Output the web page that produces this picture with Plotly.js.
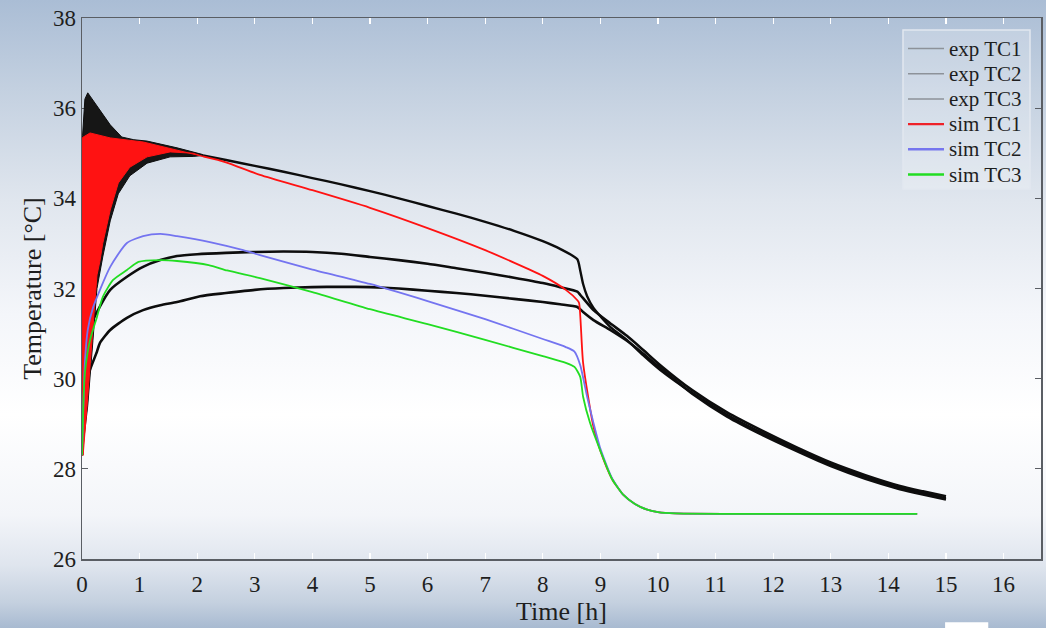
<!DOCTYPE html>
<html>
<head>
<meta charset="utf-8">
<script src="https://cdn.plot.ly/plotly-3.0.1.min.js"></script>
<style>
  html, body { margin: 0; padding: 0; }
  body {
    width: 1046px; height: 628px; overflow: hidden;
    background: linear-gradient(to bottom,
      #aabdd5 0%, #c3d0e0 14%, #e0e6ee 32%, #f4f6fa 50%,
      #ffffff 66%, #f3f5f9 82%, #dfe5ee 90%, #c4d0df 96%, #a8bad1 100%);
  }
  #chart { width: 1046px; height: 628px; }
</style>
</head>
<body>
<div id="chart"></div>
<script>
// ---- Experimental thermocouples (time in hours, temperature in °C) ----
// TC1 oscillating start-up band: upper and lower envelopes
const tExp1Up   = [0, 0.01, 0.05, 0.1, 0.15, 0.31, 0.49, 0.69, 0.9, 1.13, 1.65, 2.1];
const exp1Upper = [28.3, 35.4, 36.2, 36.34, 36.25, 35.96, 35.63, 35.36, 35.3, 35.27, 35.12, 34.97];
const tExp1Low  = [0, 0.1, 0.19, 0.26, 0.36, 0.43, 0.49, 0.63, 0.83, 1.13, 1.53, 1.93, 2.1];
const exp1Lower = [28.3, 29.4, 30.85, 32.0, 32.7, 33.15, 33.5, 34.1, 34.5, 34.78, 34.92, 34.93, 34.95];

// TC1 after the start-up band
const tExp1 = [2.1, 2.5, 3, 3.5, 4, 4.5, 5, 5.5, 6, 6.5, 7, 7.5, 8, 8.3, 8.6, 8.65, 8.7, 8.77, 8.88,
               9.17, 9.46, 9.74, 10.04, 10.6, 11.2, 11.8, 12.4, 13, 13.6, 14.2, 14.6, 15];
const exp1  = [34.95, 34.85, 34.72, 34.59, 34.45, 34.31, 34.16, 34.0, 33.83, 33.66, 33.48, 33.28, 33.05, 32.88, 32.65, 32.4, 32.1, 31.83, 31.57,
               31.15, 30.86, 30.52, 30.19, 29.68, 29.2, 28.8, 28.44, 28.1, 27.82, 27.58, 27.46, 27.35];

const tExp2 = [0, 0.02, 0.05, 0.1, 0.14, 0.31, 0.49, 0.78, 1.06, 1.36, 1.65, 2, 2.5, 3, 3.5, 4, 4.5, 5, 5.5, 6, 6.5, 7, 7.5, 8, 8.3, 8.6,
               8.65, 8.88, 9.17, 9.46, 9.74, 10.04, 10.6, 11.2, 11.8, 12.4, 13, 13.6, 14.2, 14.6, 15];
const exp2  = [28.3, 29.6, 30.5, 30.95, 31.15, 31.6, 31.97, 32.26, 32.48, 32.63, 32.72, 32.76, 32.79, 32.81, 32.82, 32.81, 32.77, 32.7, 32.63, 32.55, 32.45, 32.35, 32.24, 32.12, 32.03, 31.93,
               31.86, 31.52, 31.23, 30.95, 30.64, 30.3, 29.74, 29.25, 28.85, 28.48, 28.14, 27.86, 27.62, 27.5, 27.39];

const tExp3 = [0, 0.02, 0.05, 0.14, 0.26, 0.31, 0.49, 0.78, 1.06, 1.36, 1.65, 2.05, 2.5, 3, 3.5, 4, 4.5, 5, 5.5, 6, 6.5, 7, 7.5, 8, 8.3, 8.6,
               8.7, 8.88, 9.17, 9.46, 9.74, 10.04, 10.6, 11.2, 11.8, 12.4, 13, 13.6, 14.2, 14.6, 15];
const exp3  = [28.3, 29.3, 29.8, 30.2, 30.6, 30.79, 31.08, 31.35, 31.52, 31.63, 31.7, 31.83, 31.9, 31.97, 32.01, 32.03, 32.04, 32.03, 32.0, 31.95, 31.9, 31.84, 31.77, 31.7, 31.65, 31.59,
               31.48, 31.3, 31.08, 30.84, 30.56, 30.24, 29.66, 29.16, 28.76, 28.4, 28.06, 27.78, 27.55, 27.43, 27.32];

// ---- Simulation ----
// TC1 oscillating start-up band: upper and lower envelopes
const tSim1Up   = [0, 0.01, 0.14, 0.49, 1.06, 1.65, 2.1];
const sim1Upper = [28.3, 35.35, 35.45, 35.34, 35.25, 35.07, 34.93];
const tSim1Low  = [0, 0.02, 0.1, 0.19, 0.26, 0.31, 0.36, 0.49, 0.63, 0.83, 1.13, 1.53, 1.93, 2.1];
const sim1Lower = [28.3, 28.3, 29.6, 31.08, 32.3, 32.6, 33.0, 33.74, 34.34, 34.69, 34.92, 35.03, 35.0, 34.93];

// TC1 after the start-up band
const tSim1 = [2.1, 2.5, 3.09, 4, 5, 6, 7, 8, 8.4, 8.6, 8.63, 8.7, 8.88, 9.0, 9.2, 9.4, 9.6, 9.8, 10, 10.3, 12, 14.5];
const sim1  = [34.93, 34.8, 34.52, 34.18, 33.79, 33.34, 32.85, 32.28, 31.97, 31.74, 31.68, 30.35, 28.93, 28.4, 27.78, 27.42, 27.22, 27.1, 27.04, 27.01, 27.0, 27.0];

const tSim2 = [0, 0.02, 0.05, 0.1, 0.19, 0.49, 0.78, 1.06, 1.36, 1.65, 2.22, 2.8, 3.09, 4, 5, 6, 7, 8, 8.4, 8.55,
               8.65, 8.77, 8.88, 9.0, 9.2, 9.4, 9.6, 9.8, 10, 10.3, 12, 14.5];
const sim2  = [28.3, 29.24, 30.35, 31.08, 31.57, 32.48, 33.01, 33.16, 33.21, 33.16, 33.03, 32.85, 32.74, 32.42, 32.1, 31.72, 31.32, 30.88, 30.7, 30.6,
               30.3, 29.6, 29.02, 28.45, 27.8, 27.42, 27.22, 27.1, 27.04, 27.01, 27.0, 27.0];

const tSim3 = [0, 0.02, 0.05, 0.14, 0.26, 0.36, 0.54, 0.78, 0.98, 1.36, 1.65, 2.2, 2.52, 3.09, 4, 5, 6, 7, 8, 8.4, 8.55,
               8.65, 8.7, 8.82, 9.0, 9.2, 9.4, 9.6, 9.8, 10, 10.3, 12, 14.5];
const sim3  = [28.3, 29.3, 30.12, 30.86, 31.37, 31.81, 32.19, 32.41, 32.59, 32.63, 32.61, 32.52, 32.4, 32.23, 31.92, 31.54, 31.21, 30.86, 30.5, 30.35, 30.26,
               30.04, 29.6, 29.02, 28.4, 27.78, 27.42, 27.22, 27.1, 27.04, 27.01, 27.0, 27.0];

const legendNames  = ['exp TC1', 'exp TC2', 'exp TC3', 'sim TC1', 'sim TC2', 'sim TC3'];
const legendColors = ['#8d9299', '#8d9299', '#8d9299', '#ee2128', '#7676ee', '#22dd22'];

const BLACK = '#0d0d0d', RED = '#ff1212', BLUE = '#7474f0', GREEN = '#22dd22';
const SERIF = 'Liberation Serif';
const INK = '#1e1e1e';

const line = (x, y, color, width, extra) => Object.assign({
  type: 'scatter', mode: 'lines', x: x, y: y, showlegend: false, hoverinfo: 'skip',
  line: { color: color, width: width }
}, extra || {});

const traces = [
  // experimental TC1 band
  line(tExp1Low, exp1Lower, BLACK, 1),
  line(tExp1Up, exp1Upper, BLACK, 1, { fill: 'tonexty', fillcolor: '#161616' }),
  line(tExp1, exp1, BLACK, 2.4),
  line(tExp2, exp2, BLACK, 2.6),
  line(tExp3, exp3, BLACK, 2.6),
  // simulated TC1 band
  line(tSim1Low, sim1Lower, RED, 1),
  line(tSim1Up, sim1Upper, RED, 1, { fill: 'tonexty', fillcolor: RED }),
  line(tSim1, sim1, RED, 1.8),
  line(tSim2, sim2, BLUE, 1.8),
  line(tSim3, sim3, GREEN, 1.8)
];
// smooth the simulated curves and the slow experimental ones
[2, 3, 4, 7, 8, 9].forEach(i => { traces[i].line.shape = 'spline'; traces[i].line.smoothing = 0.6; });

// Legend box in the upper-right corner, built from pixel positions on the page
const plotL = 82, plotW = 959, plotB = 559, plotH = 541;
const px = v => (v - plotL) / plotW;
const py = v => (plotB - v) / plotH;

const shapes = [
  { type: 'rect', xref: 'paper', yref: 'paper', x0: px(903), x1: px(1030), y0: py(189), y1: py(30),
    fillcolor: 'rgba(255,255,255,0.22)', line: { color: '#e2e7ef', width: 1.5 } },
  { type: 'rect', xref: 'paper', yref: 'paper', x0: 0.9, x1: 0.945, y0: -0.1275, y1: -0.117,
    fillcolor: '#ffffff', line: { width: 0 } }
];
const annotations = [];
legendNames.forEach((name, i) => {
  const yc = 48.5 + i * 25.2;
  shapes.push({ type: 'line', xref: 'paper', yref: 'paper',
    x0: px(908), x1: px(944), y0: py(yc), y1: py(yc),
    line: { color: legendColors[i], width: i < 3 ? 1.5 : 2.4 } });
  annotations.push({ xref: 'paper', yref: 'paper', x: px(947), y: py(yc),
    xanchor: 'left', yanchor: 'middle', showarrow: false, text: name,
    font: { family: SERIF, size: 21, color: INK } });
});

const layout = {
  width: 1046, height: 628,
  margin: { l: 82, r: 5, t: 18, b: 69 },
  paper_bgcolor: 'rgba(0,0,0,0)',
  plot_bgcolor: 'rgba(0,0,0,0)',
  font: { family: SERIF, color: INK },
  showlegend: false,
  xaxis: {
    range: [0, 16.65], tickvals: [0, 1, 2, 3, 4, 5, 6, 7, 8, 9, 10, 11, 12, 13, 14, 15, 16],
    ticks: 'inside', ticklen: 6, tickwidth: 1.2, tickcolor: '#ffffff',
    showline: true, linecolor: '#5a5e64', linewidth: 1.5, mirror: 'ticks',
    showgrid: false, zeroline: false,
    tickfont: { family: SERIF, size: 23, color: INK },
    ticklabelstandoff: 4,
    title: { text: 'Time [h]', font: { family: SERIF, size: 26, color: INK }, standoff: 5 }
  },
  yaxis: {
    range: [26, 38], dtick: 2, tick0: 26,
    ticks: 'inside', ticklen: 6, tickwidth: 1.2, tickcolor: '#5a5e64',
    showline: true, linecolor: '#5a5e64', linewidth: 1.5, mirror: 'ticks',
    showgrid: false, zeroline: false, layer: 'below traces',
    tickfont: { family: SERIF, size: 23, color: INK },
    ticklabelstandoff: 0,
    title: { text: 'Temperature [°C]', font: { family: SERIF, size: 26, color: INK }, standoff: 4 }
  },
  shapes: shapes,
  annotations: annotations
};

Plotly.newPlot('chart', traces, layout, { displayModeBar: false, staticPlot: true });
</script>
</body>
</html>
